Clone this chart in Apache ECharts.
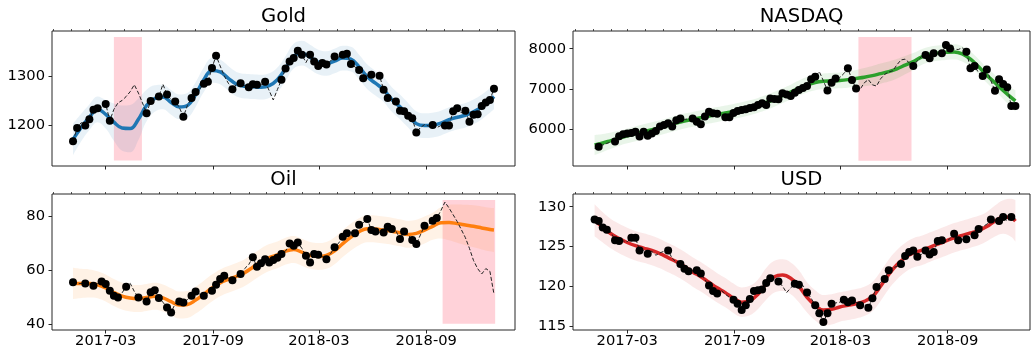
<!DOCTYPE html>
<html>
<head>
<meta charset="utf-8">
<script src="https://cdn.jsdelivr.net/npm/echarts@6/dist/echarts.min.js"></script>
<style>
  html, body { margin: 0; padding: 0; background: #fff; }
  #chart { width: 1033px; height: 356px; }
</style>
</head>
<body>
<div id="chart"></div>
<script>
// ---- weekly observations (week 0 = 2017-01-04) ----
const FIRST_WEEK = [2017, 0, 4];
const WEEK_COUNT = 104;

const goldTrue = [
  1167,1194,1205,1199,1212,1231,1234,1236,1243,1209,
  1232,1245,1250,1258,1268,1282,1265,1245,1224,1249,
  1255,1258,1283,1262,1252,1248,1236,1217,1240,1255,
  1267,1273,1284,1288,1316,1341,1320,1300,1285,1273,
  1283,1285,1280,1277,1283,1282,1281,1288,1270,1251,
  1272,1292,1315,1329,1336,1351,1343,1327,1343,1329,
  1320,1326,1323,1330,1339,1338,1343,1345,1324,1318,
  1312,1295,1300,1302,1298,1300,1272,1255,1252,1248,
  1229,1228,1219,1214,1185,1195,1201,1198,1200,1195,
  1199,1199,1199,1228,1234,1225,1229,1207,1221,1222,
  1239,1246,1251,1274
];
const nasdaqTrue = [
  5520,5560,5600,5640,5680,5690,5820,5870,5890,5900,
  5930,5810,5930,5830,5890,5950,6060,6100,6140,6060,
  6220,6260,6240,6250,6260,6180,6120,6310,6430,6390,
  6380,6320,6290,6290,6400,6450,6470,6490,6520,6540,
  6600,6640,6600,6760,6750,6740,6890,6860,6820,6900,
  6970,7020,7070,7240,7300,7430,7200,6960,7150,7260,
  7280,7380,7510,7220,7010,6990,7150,7230,7100,7070,
  7250,7360,7420,7450,7600,7720,7740,7650,7570,7700,
  7800,7842,7760,7884,7880,7884,8091,8008,7990,7980,
  8020,7925,7510,7568,7400,7320,7485,7200,6954,7236,
  7120,7037,6572,6572
];
const oilTrue = [
  55.4,54.8,55.0,55.0,54.4,54.1,55.0,55.7,54.8,52.3,
  50.4,49.8,51.5,53.8,55.0,52.0,49.8,49.5,48.3,51.7,
  52.5,49.6,48.0,46.1,44.2,47.5,48.3,47.9,49.0,50.4,
  52.0,51.0,50.4,51.5,52.3,54.5,56.6,57.8,57.0,56.2,
  57.5,58.5,60.5,62.0,64.7,61.2,62.5,64.0,62.8,63.7,
  64.5,65.9,67.0,69.8,69.0,70.2,68.0,65.3,62.8,65.9,
  65.6,65.0,64.0,66.0,68.4,70.0,72.3,73.6,74.0,73.6,
  76.8,77.5,78.9,74.8,74.3,74.0,73.9,76.0,75.2,74.5,
  71.5,74.3,73.0,71.1,69.6,73.0,76.4,77.0,78.3,79.3,
  82.0,85.2,83.0,80.5,78.0,75.0,72.0,68.0,63.5,60.5,
  58.5,60.5,59.5,51.0
];
const usdTrue = [
  128.4,128.2,127.4,127.1,126.8,125.8,125.7,125.7,125.6,126.1,
  126.1,124.5,124.5,124.1,124.4,123.9,124.2,124.4,124.5,123.5,
  123.0,122.8,122.2,121.9,122.0,122.0,121.6,120.8,120.1,119.4,
  119.1,119.5,119.0,118.6,118.3,117.8,117.0,117.6,118.4,119.4,
  119.5,119.6,120.4,121.0,120.8,120.6,120.0,119.2,119.8,120.3,
  120.2,120.1,119.2,118.5,117.6,116.6,115.5,116.6,117.8,117.9,
  118.0,118.3,118.0,118.2,118.0,117.6,117.8,117.3,118.5,119.9,
  120.5,120.9,122.0,122.3,122.5,122.8,123.8,124.3,124.5,123.7,
  124.0,124.5,124.0,124.3,125.7,125.8,125.6,126.0,126.6,125.8,
  125.9,125.9,126.2,126.4,127.2,127.5,127.8,128.4,128.2,128.2,
  128.7,128.2,128.7,128.5
];

// weeks without an observation marker
const goldUnobserved   = [2,7,17,20,22,24,26,28,31,36,37,38,40,42,46,48,49,50,57,63,65,69,72,74,78,85,86,87,89,90,95];
const nasdaqUnobserved = [0,2,3,4,22,23,31,55,56,60,61,79,80,84,88,89,90,94,97];
const oilUnobserved    = [1,2,4,6,12,14,15,17,22,25,28,31,33,38,40,42,43,52,56,61,63,65,68,71,75,79,82,85,87,90];
const usdUnobserved    = [4,7,8,12,14,15,16,17,19,20,24,27,31,32,33,44,46,47,48,51,53,59,60,64,66,70,73,74,80,86,87,90,92,95,96,98,101,103];

// held-out weeks (first, last) and the shaded window drawn over them
const goldHeldOut   = [10, 16];
const nasdaqHeldOut = [65, 77];
const oilHeldOut    = [91, 103];
const goldWindow   = { from: '2017-03-15', to: '2017-05-02', low: 1128, high: 1379 };
const nasdaqWindow = { from: '2018-04-01', to: '2018-07-01', low: 5210, high: 8292 };
const oilWindow    = { from: '2018-09-29', to: '2018-12-28', low: 40,   high: 86 };

// ---- fitted curve: mean and half-width of the band, sampled at these weeks ----
const CURVE_WEEKS = [0,2,4,6,8,10,12,14,16,18,20,22,24,26,28,30,32,34,36,38,40,42,44,46,48,50,
                     52,54,56,58,60,62,64,66,68,70,72,74,76,78,80,82,84,86,88,90,92,94,96,98,100,102,103];

const goldMean = [1171,1195,1216,1232,1222,1206,1194,1193,1212,1240,1254,1257,1246,1237,1240,1262,1292,1311,1308,1295,
                  1283,1279,1278,1277,1280,1292,1315,1340,1346,1338,1328,1325,1330,1336,1334,1318,1298,1285,1272,1252,
                  1237,1220,1203,1199,1200,1204,1211,1216,1220,1227,1237,1250,1258];
const goldHalf = [32,28,26,26,29,38,46,48,42,32,27,25,25,25,25,25,25,25,25,25,
                  25,25,25,25,25,25,25,25,25,25,25,25,25,25,25,25,25,25,25,25,
                  25,25,25,25,25,25,25,25,25,25,25,25,26];

const nasdaqMean = [5600,5650,5710,5770,5830,5880,5930,5980,6030,6090,6150,6200,6240,6280,6320,6360,6400,6440,6480,6530,
                    6590,6660,6740,6830,6920,7020,7100,7160,7190,7200,7210,7230,7260,7290,7330,7380,7430,7500,7590,7680,
                    7790,7860,7890,7910,7920,7870,7740,7550,7340,7150,6960,6780,6700];
const nasdaqHalf = [250,225,205,185,185,185,185,185,185,185,185,185,185,185,185,185,185,185,185,185,
                    185,185,185,185,185,188,192,195,195,195,195,200,210,228,242,250,250,242,228,210,
                    198,190,190,190,190,190,190,190,190,198,212,240,265];

const oilMean = [55.0,55.0,55.0,54.5,53.3,51.6,50.3,49.6,49.4,49.8,50.2,49.6,48.2,47.0,47.2,48.8,51.0,53.3,55.2,56.5,
                 57.6,59.0,61.0,63.0,64.6,65.6,67.0,67.6,66.6,65.4,65.0,65.4,67.1,69.8,72.2,74.2,75.3,75.2,74.8,74.4,
                 73.8,73.2,73.6,74.8,76.2,77.5,77.6,77.2,76.7,76.2,75.6,75.0,74.8];
const oilHalf = [5.8,5.4,5.2,5.0,5.0,5.0,5.0,5.0,5.0,5.0,5.0,5.0,5.0,5.0,5.0,5.0,5.0,5.0,5.0,5.0,
                 5.0,5.0,5.0,5.0,5.0,5.0,5.0,5.0,5.0,5.0,5.0,5.0,5.0,5.0,5.0,5.0,5.0,5.0,5.0,5.0,
                 5.0,5.0,5.0,5.0,5.0,5.8,6.6,7.1,7.5,7.8,8.0,8.1,8.2];

const usdMean = [128.3,127.4,126.6,126.0,125.5,125.1,124.8,124.5,124.1,123.6,123.1,122.5,121.8,121.2,120.5,119.8,119.2,118.5,118.0,118.2,
                 119.0,120.3,121.2,121.4,121.0,120.0,118.6,117.6,117.0,117.1,117.4,117.6,117.8,118.1,118.7,120.0,121.5,122.7,123.6,124.2,
                 124.5,124.9,125.3,125.7,126.1,126.4,126.7,127.0,127.5,128.2,128.7,128.6,128.2];
const usdHalf = [2.0,1.9,1.85,1.85,1.85,1.85,1.85,1.85,1.85,1.85,1.85,1.85,1.85,1.85,1.85,1.85,1.85,1.85,1.85,1.85,
                 1.85,2.0,2.0,2.0,2.0,2.0,1.9,1.9,1.9,1.9,1.85,1.85,1.85,1.85,1.85,1.85,1.85,1.85,1.85,1.85,
                 1.85,1.85,1.85,1.85,1.85,1.85,1.85,1.85,1.85,1.95,2.1,2.4,2.6];

// ---- axis ticks ----
const X_MAJOR = ['2017-03', '2017-09', '2018-03', '2018-09'];
const X_MINOR_FROM = [2016, 11];   // Dec 2016
const X_MINOR_COUNT = 26;          // monthly, through Jan 2019
const goldTicks = [1200, 1300];
const nasdaqTicks = [6000, 7000, 8000];
const oilTicks = [40, 60, 80];
const usdTicks = [115, 120, 125, 130];

// ---- helpers ----
const DAY = 86400000;
const week0 = Date.UTC(FIRST_WEEK[0], FIRST_WEEK[1], FIRST_WEEK[2]);
const weekTime = i => week0 + i * 7 * DAY;
const ym = s => { const p = s.split('-'); return Date.UTC(+p[0], +p[1] - 1, p[2] ? +p[2] : 1); };
const majorTicks = X_MAJOR.map(ym);
const minorTicks = [];
for (let m = 0; m < X_MINOR_COUNT; m++) minorTicks.push(Date.UTC(X_MINOR_FROM[0], X_MINOR_FROM[1] + m, 1));
const fmtMonth = v => { const d = new Date(v); return d.getUTCFullYear() + '-' + String(d.getUTCMonth() + 1).padStart(2, '0'); };

const FONT = 'DejaVu Sans';
const FRAME = '#262626';

const panels = [
  { title: 'Gold', color: '#1f77b4', band: 'rgba(31,119,180,0.10)',
    grid: { left: 52, top: 31, width: 463, height: 135 },
    x: [Date.UTC(2016, 10, 29), Date.UTC(2019, 0, 31)], y: [1117, 1391], ticks: goldTicks, labels: false,
    truth: goldTrue, mean: goldMean, half: goldHalf, unobserved: goldUnobserved, heldOut: goldHeldOut, win: goldWindow },
  { title: 'NASDAQ', color: '#2ca02c', band: 'rgba(44,160,44,0.10)',
    grid: { left: 573, top: 31, width: 457, height: 135 },
    x: [Date.UTC(2016, 10, 28), Date.UTC(2019, 0, 20)], y: [5078, 8441], ticks: nasdaqTicks, labels: false,
    truth: nasdaqTrue, mean: nasdaqMean, half: nasdaqHalf, unobserved: nasdaqUnobserved, heldOut: nasdaqHeldOut, win: nasdaqWindow },
  { title: 'Oil', color: '#ff7f0e', band: 'rgba(255,127,14,0.10)',
    grid: { left: 52, top: 194, width: 463, height: 136 },
    x: [Date.UTC(2016, 10, 29), Date.UTC(2019, 0, 31)], y: [37.7, 88.2], ticks: oilTicks, labels: true,
    truth: oilTrue, mean: oilMean, half: oilHalf, unobserved: oilUnobserved, heldOut: oilHeldOut, win: oilWindow },
  { title: 'USD', color: '#d62728', band: 'rgba(214,39,40,0.10)',
    grid: { left: 573, top: 194, width: 457, height: 136 },
    x: [Date.UTC(2016, 10, 28), Date.UTC(2019, 0, 20)], y: [114.5, 131.6], ticks: usdTicks, labels: true,
    truth: usdTrue, mean: usdMean, half: usdHalf, unobserved: usdUnobserved, heldOut: null, win: null }
];

const option = {
  animation: false,
  backgroundColor: '#fff',
  title: [], grid: [], xAxis: [], yAxis: [], series: []
};

panels.forEach((p, k) => {
  option.grid.push(Object.assign({
    show: true, borderColor: FRAME, borderWidth: 1, backgroundColor: 'transparent',
    containLabel: false, outerBoundsMode: 'none'
  }, p.grid));

  option.title.push({
    text: p.title,
    left: p.grid.left + p.grid.width / 2,
    top: p.grid.top - 24,
    textAlign: 'center',
    padding: 0,
    textStyle: { fontFamily: FONT, fontSize: 19.6, fontWeight: 'normal', color: '#000' }
  });

  // three x axes per panel: labelled major ticks, monthly minor ticks (both linear on
  // millisecond timestamps), and a hidden time axis that carries the stacked band
  const xMain = k * 3, xBand = k * 3 + 2;
  option.xAxis.push({
    gridIndex: k, type: 'value', min: p.x[0], max: p.x[1],
    axisLine: { show: false },
    axisTick: { show: true, length: 3.5, customValues: majorTicks, lineStyle: { color: FRAME, width: 1 } },
    axisLabel: { show: p.labels, customValues: majorTicks, formatter: fmtMonth, margin: 4,
                 fontFamily: FONT, fontSize: 14.7, color: '#000', hideOverlap: false },
    splitLine: { show: false }
  });
  option.xAxis.push({
    gridIndex: k, type: 'value', min: p.x[0], max: p.x[1],
    axisLine: { show: false },
    axisTick: { show: true, length: 2, customValues: minorTicks, lineStyle: { color: FRAME, width: 0.8 } },
    axisLabel: { show: false },
    splitLine: { show: false }
  });
  option.xAxis.push({
    gridIndex: k, type: 'time', min: p.x[0], max: p.x[1], show: false,
    axisLine: { show: false }, axisTick: { show: false }, axisLabel: { show: false }, splitLine: { show: false }
  });
  option.yAxis.push({
    gridIndex: k, type: 'value', min: p.y[0], max: p.y[1],
    axisLine: { show: false },
    axisTick: { show: true, length: 3.5, customValues: p.ticks, lineStyle: { color: FRAME, width: 1 } },
    axisLabel: { customValues: p.ticks, formatter: v => String(v), margin: 7,
                 fontFamily: FONT, fontSize: 14.7, color: '#000' },
    splitLine: { show: false }
  });

  const lower = CURVE_WEEKS.map((w, j) => [weekTime(w), p.mean[j] - p.half[j]]);
  const width = CURVE_WEEKS.map((w, j) => [weekTime(w), 2 * p.half[j]]);
  const mean = CURVE_WEEKS.map((w, j) => [weekTime(w), p.mean[j]]);
  const truth = p.truth.map((v, i) => [weekTime(i), v]);
  const dots = [];
  p.truth.forEach((v, i) => {
    const held = p.heldOut && i >= p.heldOut[0] && i <= p.heldOut[1];
    if (!held && p.unobserved.indexOf(i) < 0) dots.push([weekTime(i), v]);
  });

  const common = { xAxisIndex: xMain, yAxisIndex: k, silent: true };
  const bandAxes = { xAxisIndex: xBand, yAxisIndex: k, silent: true };

  // shaded held-out window
  if (p.win) {
    option.series.push(Object.assign({
      type: 'line', data: [], z: 0, symbol: 'none',
      markArea: {
        silent: true,
        itemStyle: { color: 'rgba(255,192,203,0.72)' },
        data: [[{ xAxis: ym(p.win.from), yAxis: p.win.low }, { xAxis: ym(p.win.to), yAxis: p.win.high }]]
      }
    }, common));
  }

  // confidence band (lower edge + stacked width)
  option.series.push(Object.assign({
    type: 'line', data: lower, stack: 'band' + k, symbol: 'none', smooth: 0.4, z: 1,
    lineStyle: { width: 0, opacity: 0 }
  }, bandAxes));
  option.series.push(Object.assign({
    type: 'line', data: width, stack: 'band' + k, symbol: 'none', smooth: 0.4, z: 1,
    lineStyle: { width: 0, opacity: 0 }, areaStyle: { color: p.band, opacity: 1 }
  }, bandAxes));

  // fitted mean
  option.series.push(Object.assign({
    type: 'line', data: mean, symbol: 'none', smooth: 0.4, z: 3,
    lineStyle: { color: p.color, width: 3.5 }
  }, common));

  // actual weekly values
  option.series.push(Object.assign({
    type: 'line', data: truth, symbol: 'none', z: 4,
    lineStyle: { color: '#222', width: 1, type: [4, 2] }
  }, common));

  // observations
  option.series.push(Object.assign({
    type: 'scatter', data: dots, symbol: 'circle', symbolSize: 8, z: 5,
    itemStyle: { color: '#000', opacity: 1 }
  }, common));
});

const chart = echarts.init(document.getElementById('chart'), null, { renderer: 'canvas' });
chart.setOption(option);
</script>
</body>
</html>
